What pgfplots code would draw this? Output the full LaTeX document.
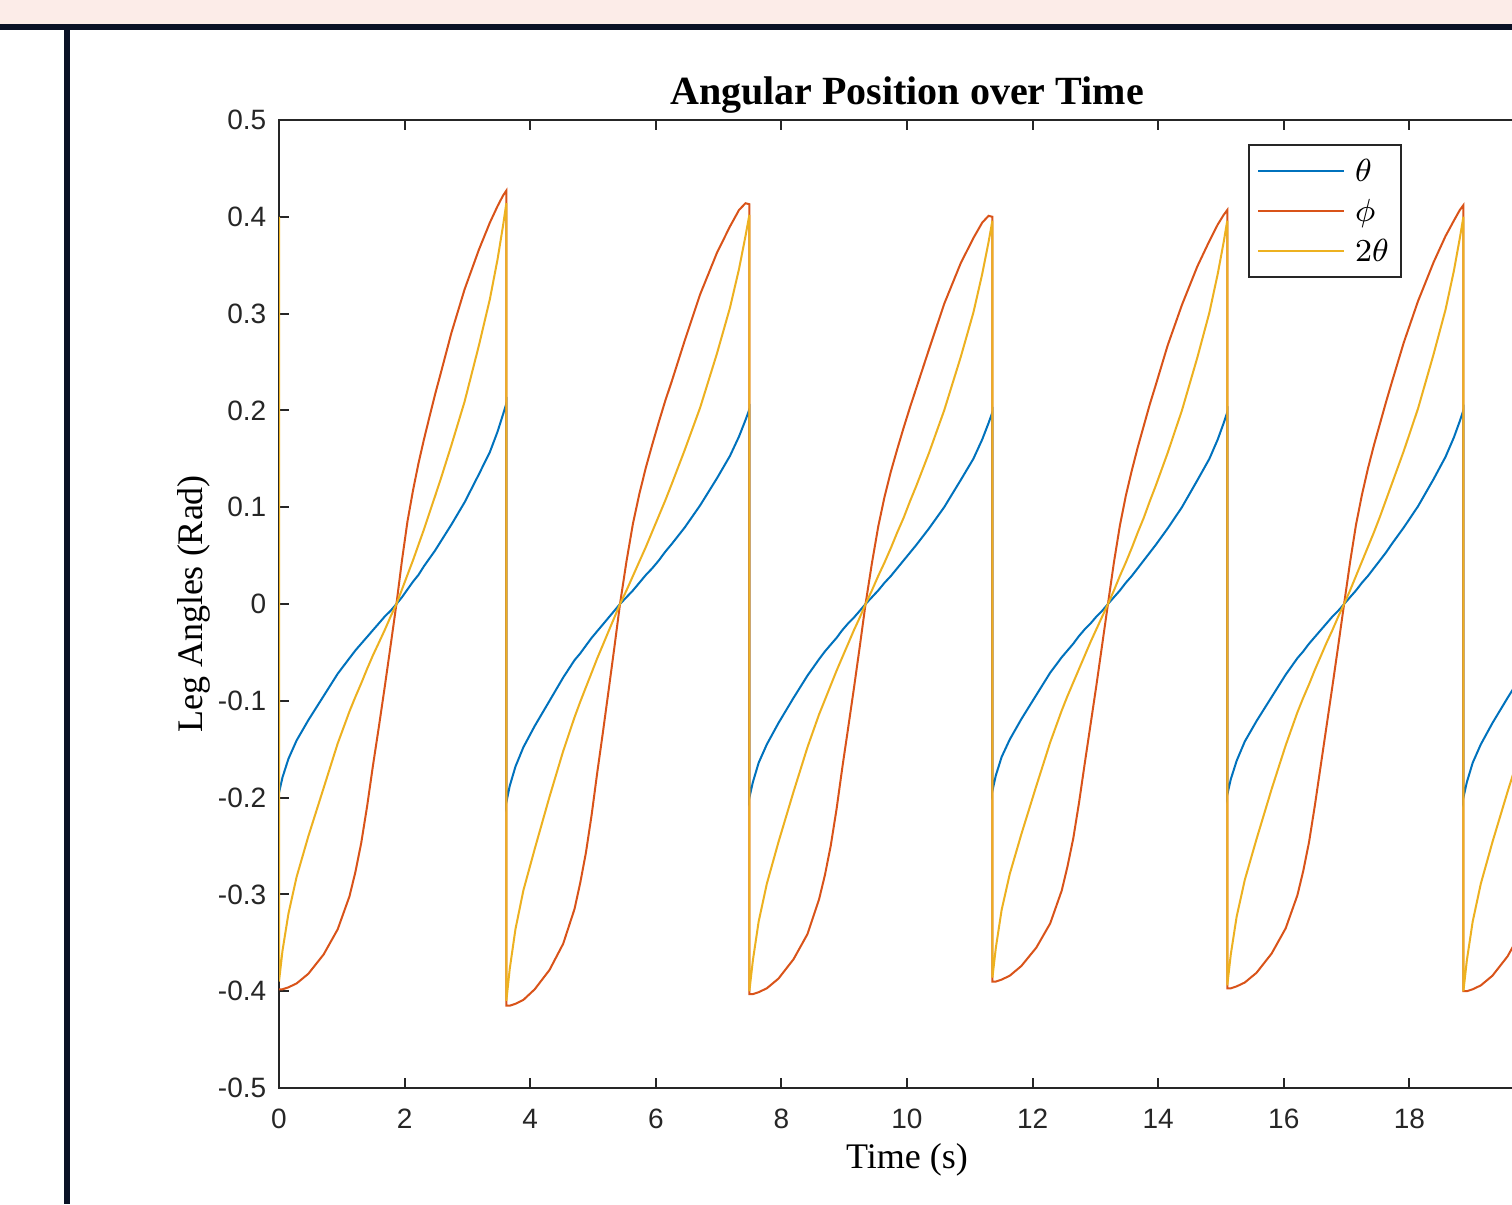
\documentclass[border=0pt]{standalone}
\usepackage{fontspec}
\setmainfont{Liberation Serif}
\newfontfamily\ticksfont{Liberation Sans}
\usepackage{pgfplots}
\usepackage{pgfplotstable}
\pgfplotsset{compat=1.18}
\definecolor{mblue}{rgb}{0,0.447,0.741}
\definecolor{mred}{rgb}{0.85,0.325,0.098}
\definecolor{myellow}{rgb}{0.929,0.694,0.125}
\definecolor{axgray}{rgb}{0.15,0.15,0.15}
\definecolor{pinkbg}{RGB}{252,236,232}
\definecolor{navy}{RGB}{10,18,38}
\pgfplotstableread{
t th ph tt
0.000 -0.195 -0.398 0.400
0.000 -0.195 -0.398 -0.390
0.056 -0.179 -0.398 -0.358
0.150 -0.160 -0.396 -0.320
0.280 -0.141 -0.392 -0.282
0.467 -0.120 -0.382 -0.240
0.711 -0.095 -0.362 -0.190
0.935 -0.072 -0.336 -0.144
1.122 -0.056 -0.302 -0.111
1.216 -0.048 -0.277 -0.096
1.309 -0.041 -0.247 -0.082
1.403 -0.034 -0.209 -0.067
1.496 -0.027 -0.167 -0.053
1.590 -0.020 -0.127 -0.040
1.683 -0.013 -0.086 -0.027
1.777 -0.007 -0.043 -0.013
1.870 0.000 0.000 0.000
1.958 0.007 0.045 0.015
2.045 0.015 0.085 0.030
2.133 0.023 0.117 0.045
2.220 0.030 0.145 0.061
2.308 0.039 0.170 0.077
2.395 0.047 0.193 0.094
2.483 0.055 0.216 0.111
2.570 0.064 0.237 0.128
2.745 0.082 0.280 0.164
2.955 0.105 0.325 0.209
3.183 0.134 0.366 0.267
3.358 0.157 0.394 0.315
3.480 0.178 0.411 0.356
3.568 0.196 0.422 0.391
3.620 0.207 0.427 0.414
3.620 -0.205 -0.415 -0.410
3.674 -0.188 -0.415 -0.377
3.765 -0.168 -0.413 -0.336
3.891 -0.148 -0.409 -0.296
4.072 -0.126 -0.398 -0.253
4.308 -0.100 -0.378 -0.199
4.525 -0.076 -0.351 -0.152
4.706 -0.058 -0.315 -0.117
4.797 -0.051 -0.288 -0.101
4.887 -0.043 -0.257 -0.086
4.978 -0.035 -0.218 -0.071
5.068 -0.028 -0.174 -0.056
5.159 -0.021 -0.132 -0.042
5.249 -0.014 -0.089 -0.028
5.340 -0.007 -0.045 -0.014
5.430 0.000 0.000 0.000
5.533 0.007 0.044 0.014
5.636 0.014 0.083 0.029
5.739 0.022 0.114 0.044
5.842 0.030 0.141 0.059
5.945 0.037 0.165 0.075
6.048 0.045 0.188 0.091
6.151 0.054 0.210 0.107
6.254 0.062 0.230 0.124
6.460 0.079 0.272 0.159
6.707 0.102 0.320 0.203
6.975 0.130 0.363 0.259
7.181 0.153 0.390 0.306
7.325 0.173 0.407 0.346
7.428 0.190 0.414 0.380
7.490 0.201 0.413 0.402
7.490 -0.200 -0.403 -0.400
7.546 -0.184 -0.403 -0.368
7.638 -0.164 -0.401 -0.328
7.768 -0.145 -0.397 -0.289
7.953 -0.123 -0.387 -0.246
8.193 -0.097 -0.367 -0.194
8.415 -0.074 -0.341 -0.148
8.600 -0.057 -0.305 -0.114
8.693 -0.049 -0.280 -0.099
8.785 -0.042 -0.250 -0.084
8.878 -0.035 -0.212 -0.069
8.970 -0.027 -0.169 -0.055
9.063 -0.020 -0.128 -0.041
9.155 -0.014 -0.087 -0.027
9.248 -0.007 -0.044 -0.014
9.340 0.000 0.000 0.000
9.441 0.007 0.042 0.014
9.542 0.014 0.080 0.029
9.643 0.022 0.111 0.043
9.744 0.029 0.137 0.058
9.845 0.037 0.160 0.074
9.946 0.045 0.182 0.089
10.047 0.053 0.203 0.106
10.148 0.061 0.223 0.122
10.350 0.078 0.263 0.156
10.592 0.100 0.310 0.200
10.855 0.128 0.352 0.255
11.057 0.150 0.378 0.301
11.198 0.170 0.394 0.341
11.299 0.187 0.401 0.374
11.360 0.198 0.400 0.396
11.360 -0.193 -0.390 -0.386
11.415 -0.177 -0.390 -0.355
11.507 -0.158 -0.388 -0.316
11.636 -0.140 -0.384 -0.279
11.820 -0.119 -0.374 -0.238
12.059 -0.094 -0.355 -0.188
12.280 -0.071 -0.330 -0.143
12.464 -0.055 -0.296 -0.110
12.556 -0.048 -0.271 -0.095
12.648 -0.041 -0.242 -0.081
12.740 -0.033 -0.205 -0.067
12.832 -0.026 -0.164 -0.053
12.924 -0.020 -0.124 -0.039
13.016 -0.013 -0.084 -0.026
13.108 -0.007 -0.042 -0.013
13.200 0.000 0.000 0.000
13.295 0.007 0.043 0.014
13.390 0.014 0.081 0.029
13.485 0.022 0.112 0.043
13.580 0.029 0.138 0.058
13.675 0.037 0.162 0.074
13.770 0.045 0.184 0.089
13.865 0.053 0.206 0.106
13.960 0.061 0.226 0.122
14.150 0.078 0.267 0.156
14.378 0.100 0.309 0.200
14.625 0.128 0.349 0.255
14.815 0.150 0.375 0.301
14.948 0.170 0.392 0.341
15.043 0.187 0.402 0.374
15.100 0.198 0.407 0.396
15.100 -0.197 -0.397 -0.394
15.156 -0.181 -0.397 -0.362
15.249 -0.162 -0.395 -0.323
15.379 -0.142 -0.391 -0.285
15.565 -0.121 -0.381 -0.243
15.807 -0.096 -0.361 -0.191
16.030 -0.073 -0.335 -0.146
16.216 -0.056 -0.301 -0.112
16.309 -0.049 -0.276 -0.097
16.402 -0.041 -0.246 -0.083
16.495 -0.034 -0.208 -0.068
16.588 -0.027 -0.167 -0.054
16.681 -0.020 -0.126 -0.040
16.774 -0.013 -0.085 -0.027
16.867 -0.007 -0.043 -0.013
16.960 0.000 0.000 0.000
17.055 0.007 0.043 0.014
17.150 0.014 0.082 0.029
17.245 0.022 0.113 0.044
17.340 0.029 0.140 0.059
17.435 0.037 0.164 0.074
17.530 0.045 0.186 0.090
17.625 0.053 0.208 0.107
17.720 0.062 0.229 0.124
17.910 0.079 0.270 0.158
18.138 0.101 0.313 0.202
18.385 0.129 0.353 0.258
18.575 0.152 0.380 0.304
18.708 0.172 0.396 0.344
18.803 0.189 0.407 0.378
18.860 0.200 0.412 0.400
18.860 -0.200 -0.400 -0.400
18.915 -0.184 -0.400 -0.368
19.008 -0.164 -0.398 -0.328
19.137 -0.145 -0.394 -0.289
19.322 -0.123 -0.384 -0.246
19.563 -0.097 -0.364 -0.194
19.785 -0.074 -0.338 -0.148
19.970 -0.057 -0.303 -0.114
20.063 -0.049 -0.278 -0.099
}\datatab
\begin{document}
\begin{tikzpicture}
\fill[white] (0,0) rectangle (378pt,301pt);
\fill[pinkbg] (0,295pt) rectangle (378pt,301pt);
\fill[navy] (0,293.5pt) rectangle (378pt,295pt);
\fill[navy] (16pt,0) rectangle (17.5pt,295pt);
\begin{axis}[
  at={(69.75pt,29pt)}, anchor=south west,
  scale only axis, width=314pt, height=242pt,
  xmin=0, xmax=20, ymin=-0.5, ymax=0.5,
  axis line style={axgray, line width=0.5pt},
  tick style={axgray, line width=0.5pt},
  tick align=inside, major tick length=2.5pt,
  xtick={0,2,4,6,8,10,12,14,16,18,20},
  xticklabels={0,2,4,6,8,10,12,14,16,18,{}},
  ytick={-0.5,-0.4,-0.3,-0.2,-0.1,0,0.1,0.2,0.3,0.4,0.5},
  yticklabels={-0.5,-0.4,-0.3,-0.2,-0.1,0,0.1,0.2,0.3,0.4,0.5},
  /pgf/number format/assume math mode=true,
  every tick label/.append style={font=\ticksfont\fontsize{7}{8}\selectfont, text=axgray},
  xticklabel style={anchor=base, yshift=-10pt, inner sep=0pt},
  yticklabel style={anchor=east, inner sep=0pt, xshift=-3pt},
  title={Angular Position over Time},
  every axis title/.style={font=\bfseries\fontsize{10}{12}\selectfont, at={(axis description cs:0.5,1)}, anchor=base, yshift=3.75pt},
  xlabel={Time (s)},
  xlabel style={font=\fontsize{9}{11}\selectfont, at={(axis description cs:0.5,0)}, anchor=base, yshift=-20pt},
  ylabel={Leg Angles (Rad)},
  ylabel style={font=\fontsize{9}{11}\selectfont, at={(axis description cs:-0.0613,0.5)}, anchor=base},
  legend style={at={(axis description cs:0.7715,0.9747)}, anchor=north west, draw=axgray, line width=0.5pt, fill=white,
    font=\fontsize{8.5}{10}\selectfont, inner xsep=2pt, inner ysep=1.5pt,
    nodes={inner sep=1pt, text height=6.5pt, text depth=1.5pt}, row sep=0pt,
    /tikz/every odd column/.append style={column sep=1.5pt}},
  legend cell align=left,
  legend image code/.code={\draw[#1, line width=0.5pt] (0pt,0pt) -- (21.5pt,0pt);},
]
\addplot[mblue, line width=0.5pt] table[x=t, y=th]{\datatab};
\addplot[mred, line width=0.5pt] table[x=t, y=ph]{\datatab};
\addplot[myellow, line width=0.5pt] table[x=t, y=tt]{\datatab};
\legend{$\theta$, $\phi$, $2\theta$}
\end{axis}
\pgfresetboundingbox
\useasboundingbox (0,0) rectangle (378pt,301pt);
\end{tikzpicture}
\end{document}
